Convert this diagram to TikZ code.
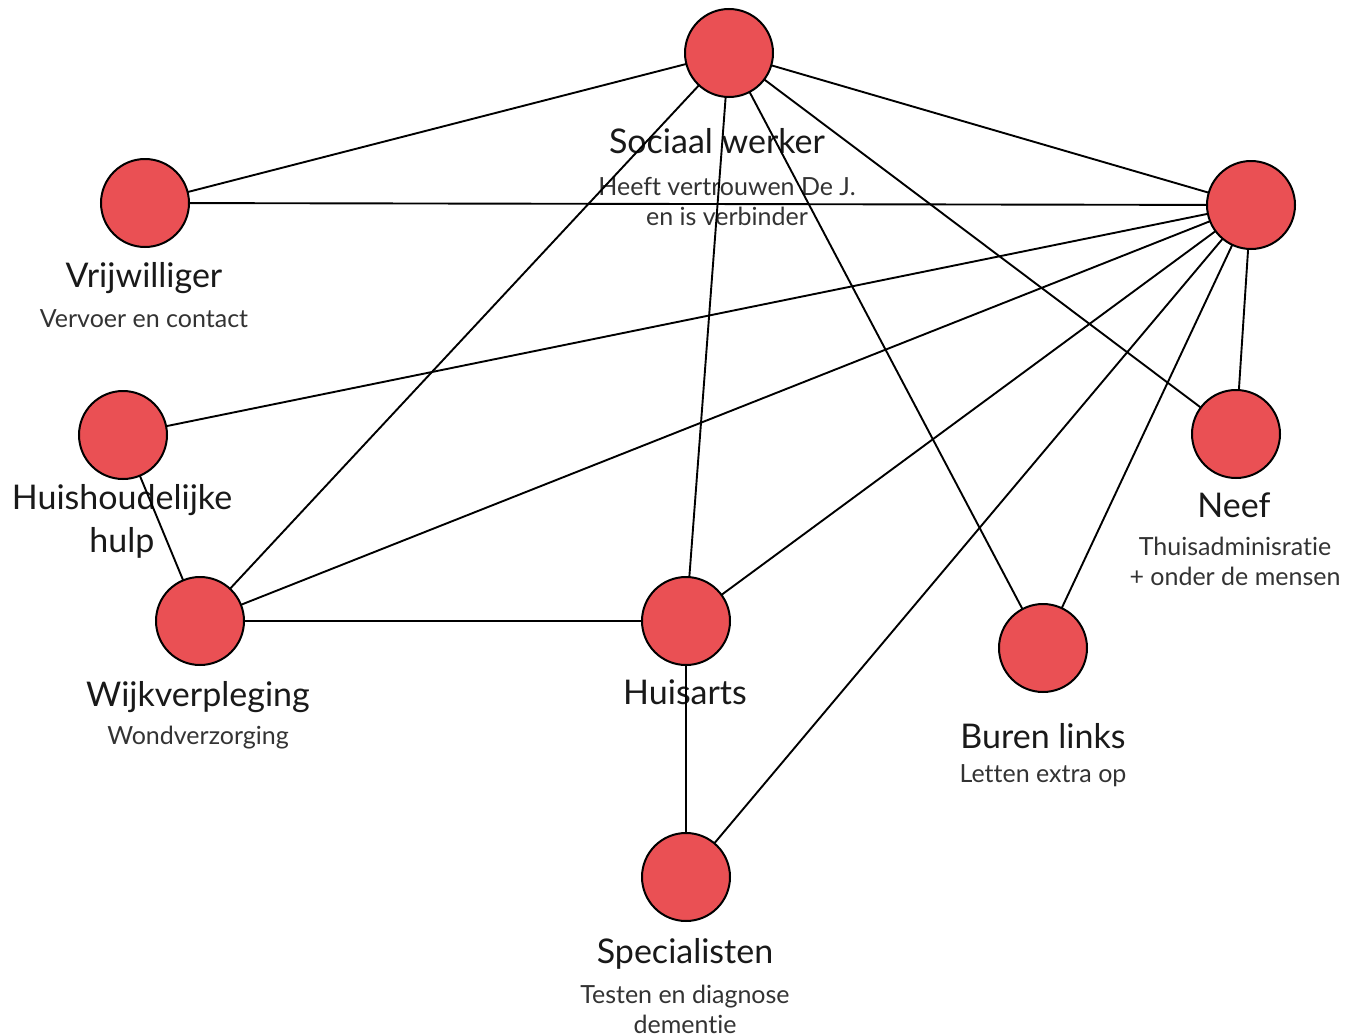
\documentclass[tikz,border=0pt]{standalone}
\usepackage{fontspec}
\setmainfont{Lato}[Ligatures={NoCommon}]
\definecolor{dotred}{RGB}{234,80,84}
\begin{document}
\begin{tikzpicture}[x=1pt,y=-1pt,
  dot/.style={circle,draw=black,line width=2pt,fill=dotred,minimum size=88pt,inner sep=0pt},
  edge/.style={line width=1.9pt,black},
  title/.style={font=\fontsize{34}{38}\selectfont,text=black!90,inner sep=0pt,align=center},
  sub/.style={font=\fontsize{25}{30}\selectfont,text=black!80,inner sep=0pt,align=center}]
\useasboundingbox[fill=white] (0,0) rectangle (1345,1036);
% labels
\node[title] (tSW) at (717,141) {Sociaal werker};
\node[sub] (sSW) at (727,202) {Heeft vertrouwen De J.\\en is verbinder};
\node[title] (tVR) at (144,278) {Vrijwilliger};
\node[sub] (sVR) at (144,319) {Vervoer en contact};
\node[title,font=\fontsize{34}{43}\selectfont] (tHH) at (122,521) {Huishoudelijke\\hulp};
\node[title] (tNE) at (1234,505) {Neef};
\node[sub] (sNE) at (1235,561) {Thuisadminisratie\\+ onder de mensen};
\node[title] (tWV) at (198,697) {Wijkverpleging};
\node[sub] (sWV) at (198,738) {Wondverzorging};
\node[title] (tHA) at (685,692) {Huisarts};
\node[title] (tBL) at (1043,736) {Buren links};
\node[sub] (sBL) at (1043,776) {Letten extra op};
\node[title] (tSP) at (685,954) {Specialisten};
\node[sub] (sSP) at (685,1009) {Testen en diagnose\\dementie};
% circle positions
\coordinate (cSW) at (729,53);
\coordinate (cVR) at (145,203);
\coordinate (cHB) at (1251,205);
\coordinate (cNE) at (1236,434);
\coordinate (cHH) at (123,435);
\coordinate (cWV) at (200,621);
\coordinate (cHA) at (686,621);
\coordinate (cSP) at (686,877);
\coordinate (cBL) at (1043,648);
% edges
\draw[edge] (cSW) -- (cVR);
\draw[edge] (cSW) -- (cHB);
\draw[edge] (cSW) -- (cWV);
\draw[edge] (cSW) -- (cHA);
\draw[edge] (cSW) -- (cBL);
\draw[edge] (cSW) -- (cNE);
\draw[edge] (cVR) -- (cHB);
\draw[edge] (cHB) -- (cHH);
\draw[edge] (cHB) -- (cWV);
\draw[edge] (cHB) -- (cHA);
\draw[edge] (cHB) -- (cSP);
\draw[edge] (cHB) -- (cBL);
\draw[edge] (cHB) -- (cNE);
\draw[edge] (cHH) -- (cWV);
\draw[edge] (cWV) -- (cHA);
\draw[edge] (cHA) -- (cSP);
% circles
\node[dot] (SW) at (cSW) {};
\node[dot] (VR) at (cVR) {};
\node[dot] (HB) at (cHB) {};
\node[dot] (NE) at (cNE) {};
\node[dot] (HH) at (cHH) {};
\node[dot] (WV) at (cWV) {};
\node[dot] (HA) at (cHA) {};
\node[dot] (SP) at (cSP) {};
\node[dot] (BL) at (cBL) {};
\end{tikzpicture}
\end{document}
